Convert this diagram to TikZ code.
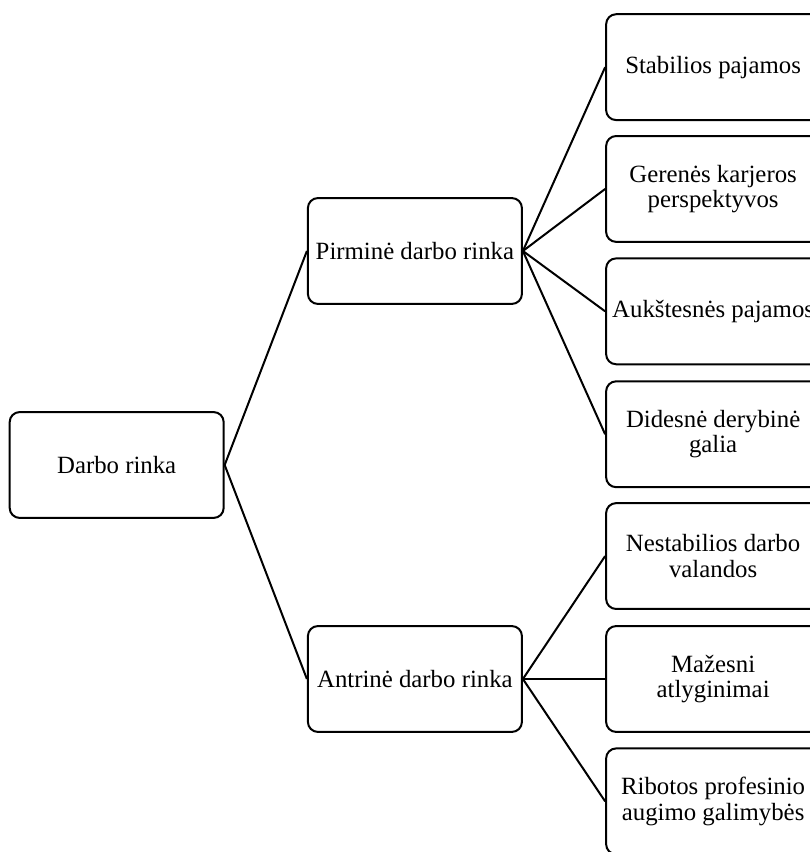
\documentclass[tikz,border=0pt]{standalone}
\usepackage{fontspec}
\setmainfont{Liberation Serif}
\usepackage{tikz}

\begin{document}
\begin{tikzpicture}[
    rbox/.style={rectangle, rounded corners=5pt, draw=black, line width=1pt, minimum height=1.86cm, minimum width=3.76cm, inner sep=0pt, align=center, font=\fontsize{12.4}{12.6}\selectfont},
    link/.style={line width=1pt, black}
  ]
    \useasboundingbox (0,0) rectangle (14.23,-14.97);

    \node[rbox] (rinka) at (2.05, -8.17) {Darbo rinka};
    \node[rbox] (pirmine) at (7.29, -4.41) {Pirminė darbo rinka};
    \node[rbox] (antrine) at (7.29, -11.93) {Antrinė darbo rinka};

    \node[rbox] (p1) at (12.53, -1.18) {Stabilios pajamos};
    \node[rbox] (p2) at (12.53, -3.32) {Gerenės karjeros\\perspektyvos};
    \node[rbox] (p3) at (12.53, -5.47) {Aukštesnės pajamos};
    \node[rbox] (p4) at (12.53, -7.63) {Didesnė derybinė\\galia};

    \node[rbox] (a1) at (12.53, -9.77) {Nestabilios darbo\\valandos};
    \node[rbox] (a2) at (12.53, -11.93) {Mažesni\\atlyginimai};
    \node[rbox] (a3) at (12.53, -14.08) {Ribotos profesinio\\augimo galimybės};

    \draw[link] (rinka.east) -- (pirmine.west);
    \draw[link] (rinka.east) -- (antrine.west);
    \draw[link] (pirmine.east) -- (p1.west);
    \draw[link] (pirmine.east) -- (p2.west);
    \draw[link] (pirmine.east) -- (p3.west);
    \draw[link] (pirmine.east) -- (p4.west);
    \draw[link] (antrine.east) -- (a1.west);
    \draw[link] (antrine.east) -- (a2.west);
    \draw[link] (antrine.east) -- (a3.west);
  \end{tikzpicture}
\end{document}
